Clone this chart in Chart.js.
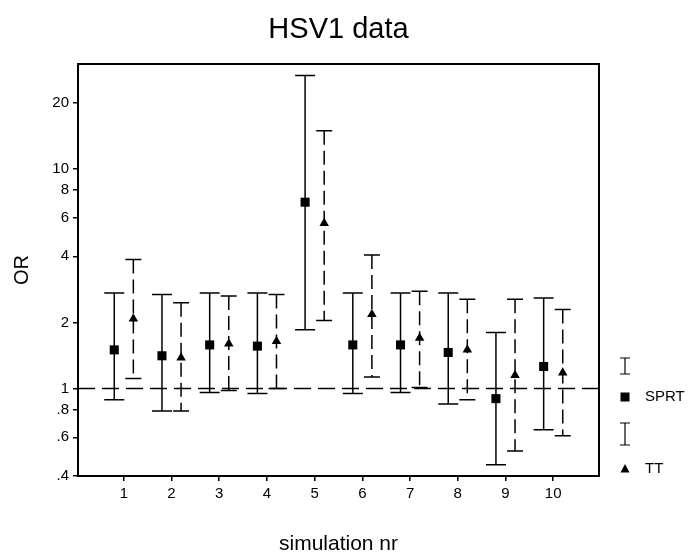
<!DOCTYPE html>
<html>
<head>
<meta charset="utf-8">
<script src="https://cdn.jsdelivr.net/npm/chart.js@4.4.1/dist/chart.umd.min.js"></script>
<style>
  html, body { margin: 0; padding: 0; background: #fff; }
  #wrap { width: 688px; height: 553px; }
</style>
</head>
<body>
<div id="wrap"><canvas id="c" width="688" height="553"></canvas></div>
<script>
'use strict';

/* ── Data ──────────────────────────────────────────────────── */
const simulations = [1, 2, 3, 4, 5, 6, 7, 8, 9, 10];

const sprtOR = [1.50, 1.41, 1.58, 1.56, 7.05, 1.58, 1.58, 1.46, 0.90, 1.26];
const sprtLo = [0.89, 0.79, 0.96, 0.95, 1.85, 0.95, 0.96, 0.85, 0.45, 0.65];
const sprtHi = [2.72, 2.68, 2.72, 2.72, 26.6, 2.72, 2.72, 2.72, 1.80, 2.58];

const ttOR = [2.08, 1.38, 1.60, 1.64, 5.65, 2.18, 1.70, 1.50, 1.15, 1.18];
const ttLo = [1.11, 0.79, 0.98, 1.00, 2.04, 1.13, 1.01, 0.89, 0.52, 0.61];
const ttHi = [3.87, 2.46, 2.64, 2.68, 14.9, 4.05, 2.77, 2.55, 2.55, 2.29];

const yTicks      = [0.4, 0.6, 0.8, 1, 2, 4, 6, 8, 10, 20];
const yTickLabels = ['.4', '.6', '.8', '1', '2', '4', '6', '8', '10', '20'];

const TITLE = 'HSV1 data';

/* ── Style ─────────────────────────────────────────────────── */
const FONT = '"Liberation Sans", Arial, sans-serif';
const INK  = '#000';
const SHIFT = 0.2;   // horizontal offset of the two series around each tick

function points(or, lo, hi, dx) {
  return simulations.map((s, i) => ({ x: s + dx, y: or[i], lo: lo[i], hi: hi[i] }));
}

// Error bars, OR=1 reference line, frame, title and the side legend.
const errorBars = {
  id: 'errorBars',
  beforeDatasetsDraw(ch) {
    const { ctx, chartArea: a, scales: { x, y } } = ch;
    ctx.save();
    ctx.strokeStyle = INK;
    ctx.lineWidth = 1.5;

    // dashed reference line at OR = 1
    const y1 = y.getPixelForValue(1);
    ctx.setLineDash([17, 7]);
    ctx.beginPath();
    ctx.moveTo(a.left, y1);
    ctx.lineTo(a.right, y1);
    ctx.stroke();

    ch.data.datasets.forEach(ds => {
      ds.data.forEach(p => {
        const px = x.getPixelForValue(p.x);
        const pl = y.getPixelForValue(p.lo);
        const ph = y.getPixelForValue(p.hi);
        ctx.setLineDash(ds.barDash);
        ctx.beginPath();
        ctx.moveTo(px, ph);
        ctx.lineTo(px, pl);
        ctx.stroke();
        ctx.setLineDash([]);
        ctx.beginPath();
        ctx.moveTo(px - ds.capHalf, ph); ctx.lineTo(px + ds.capHalf, ph);
        ctx.moveTo(px - ds.capHalf, pl); ctx.lineTo(px + ds.capHalf, pl);
        ctx.stroke();
      });
    });
    ctx.restore();
  },
  afterDraw(ch) {
    const { ctx, chartArea: a } = ch;
    ctx.save();
    ctx.strokeStyle = INK;
    ctx.fillStyle = INK;

    // plot frame
    ctx.lineWidth = 2;
    ctx.strokeRect(a.left, a.top, a.right - a.left, a.bottom - a.top);

    // title, centred over the plot frame
    ctx.font = '29px ' + FONT;
    ctx.textAlign = 'center';
    ctx.textBaseline = 'alphabetic';
    ctx.fillText(TITLE, (a.left + a.right) / 2, a.top - 26);

    // legend on the right
    const lx = a.right + 26;
    const tx = a.right + 46;
    ctx.lineWidth = 1.2;
    const beam = (top, bot) => {
      ctx.beginPath();
      ctx.moveTo(lx, top); ctx.lineTo(lx, bot);
      ctx.moveTo(lx - 5, top); ctx.lineTo(lx + 5, top);
      ctx.moveTo(lx - 5, bot); ctx.lineTo(lx + 5, bot);
      ctx.stroke();
    };
    beam(a.bottom - 118, a.bottom - 102);
    beam(a.bottom - 53, a.bottom - 31);

    ctx.font = '15px ' + FONT;
    ctx.textBaseline = 'middle';
    ctx.textAlign = 'left';
    const ySprt = a.bottom - 79;
    ctx.fillRect(lx - 4.5, ySprt - 4.5, 9, 9);
    ctx.fillText('SPRT', tx, ySprt);

    const yTT = a.bottom - 7;
    ctx.beginPath();
    ctx.moveTo(lx, yTT - 5);
    ctx.lineTo(lx + 4.5, yTT + 3.5);
    ctx.lineTo(lx - 4.5, yTT + 3.5);
    ctx.closePath();
    ctx.fill();
    ctx.fillText('TT', tx, yTT);
    ctx.restore();
  }
};

new Chart(document.getElementById('c'), {
  type: 'scatter',
  data: {
    datasets: [
      {
        label: 'SPRT',
        data: points(sprtOR, sprtLo, sprtHi, -SHIFT),
        pointStyle: 'rect',
        pointRadius: 6.4,
        backgroundColor: INK,
        borderColor: INK,
        borderWidth: 0,
        barDash: [],
        capHalf: 10,
      },
      {
        label: 'TT',
        data: points(ttOR, ttLo, ttHi, SHIFT),
        pointStyle: 'triangle',
        pointRadius: 5.5,
        backgroundColor: INK,
        borderColor: INK,
        borderWidth: 0,
        barDash: [14, 6],
        capHalf: 8,
      }
    ]
  },
  plugins: [errorBars],
  options: {
    responsive: false,
    animation: false,
    events: [],
    layout: { padding: { top: 64, right: 89, bottom: 0, left: 0 } },
    plugins: {
      legend: { display: false },
      tooltip: { enabled: false },
      title: { display: false }
    },
    scales: {
      x: {
        type: 'linear',
        min: 0.04,
        max: 10.96,
        afterBuildTicks: s => { s.ticks = simulations.map(v => ({ value: v })); },
        afterFit: s => { s.height = 77; },
        ticks: {
          color: INK,
          autoSkip: false,
          maxRotation: 0,
          padding: 4,
          font: { family: FONT, size: 15 },
          callback: v => String(v)
        },
        grid: { drawOnChartArea: false, drawTicks: true, tickLength: 5, color: INK, lineWidth: 1.5 },
        border: { display: false },
        title: {
          display: true,
          text: 'simulation nr',
          color: INK,
          font: { family: FONT, size: 21, lineHeight: 1 },
          padding: { top: 0, bottom: -2 }
        }
      },
      y: {
        type: 'logarithmic',
        min: 0.4,
        max: 30,
        afterBuildTicks: s => { s.ticks = yTicks.map(v => ({ value: v })); },
        afterFit: s => { s.width = 78; },
        ticks: {
          color: INK,
          autoSkip: false,
          padding: 4,
          font: { family: FONT, size: 15 },
          callback: (v, i) => yTickLabels[i]
        },
        grid: { drawOnChartArea: false, drawTicks: true, tickLength: 5, color: INK, lineWidth: 1.5 },
        border: { display: false },
        title: {
          display: true,
          text: 'OR',
          color: INK,
          font: { family: FONT, size: 20 },
          padding: { top: 10, bottom: 0 }
        }
      }
    }
  }
});
</script>
</body>
</html>
